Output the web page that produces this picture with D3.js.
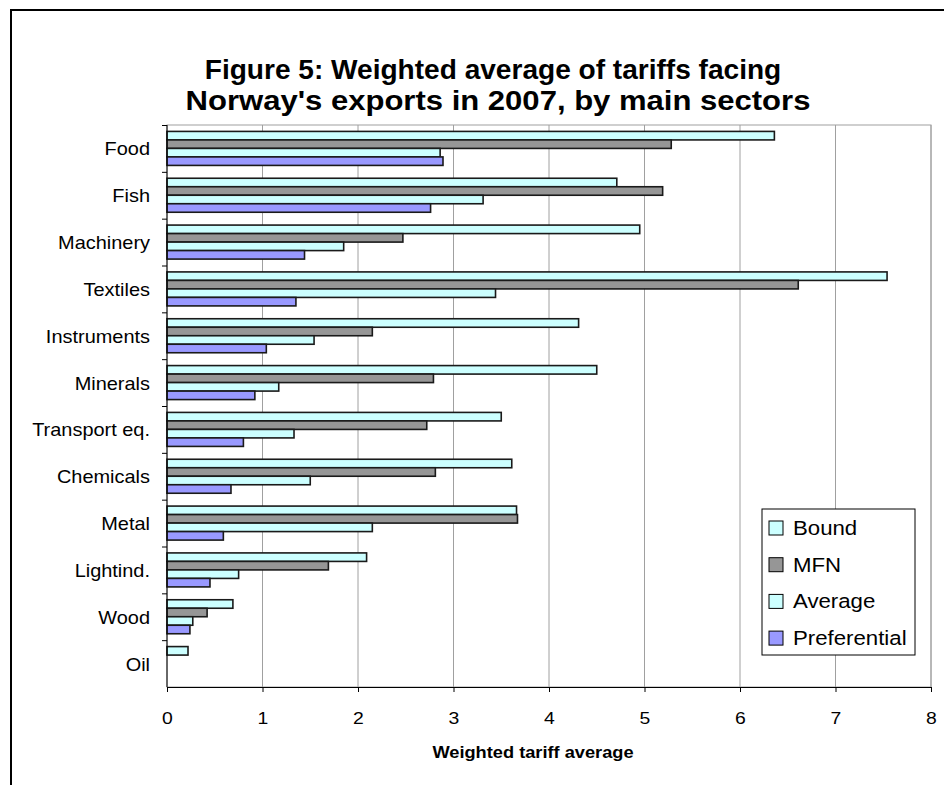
<!DOCTYPE html>
<html>
<head>
<meta charset="utf-8">
<script src="https://cdn.jsdelivr.net/npm/d3@7"></script>
<style>
  body { margin: 0; background: #fff; }
  text { font-family: "Liberation Sans", Arial, sans-serif; fill: #000; }
</style>
</head>
<body>
<script>
// sectors, top to bottom
const sectors = ["Food", "Fish", "Machinery", "Textiles", "Instruments", "Minerals",
  "Transport eq.", "Chemicals", "Metal", "Lightind.", "Wood", "Oil"];

const seriesNames = ["Bound", "MFN", "Average", "Preferential"];
const seriesColors = ["#ccffff", "#969696", "#ccffff", "#9999ff"];

// values
const bound       = [6.36, 4.71, 4.95, 7.54, 4.31, 4.50, 3.50, 3.61, 3.66, 2.09, 0.69, 0.22];
const mfn         = [5.28, 5.19, 2.47, 6.61, 2.15, 2.79, 2.72, 2.81, 3.67, 1.69, 0.42, 0];
const average     = [2.86, 3.31, 1.85, 3.44, 1.54, 1.17, 1.33, 1.50, 2.15, 0.75, 0.27, 0];
const preferential= [2.89, 2.76, 1.44, 1.35, 1.04, 0.92, 0.80, 0.67, 0.59, 0.45, 0.24, 0];

const xTicks = [0, 1, 2, 3, 4, 5, 6, 7, 8];

const allSeries = [bound, mfn, average, preferential];
const data = sectors.map((s, i) => ({
  sector: s,
  values: allSeries.map((arr, j) => ({ key: seriesNames[j], idx: j, value: arr[i] }))
}));

const W = 944, H = 785;
const plot = { left: 167, right: 931, top: 125, bottom: 687 };
const SX = 1.14; // horizontal stretch of the original text

const svg = d3.select("body").append("svg")
    .attr("width", W)
    .attr("height", H);

// outer frame
svg.append("rect")
    .attr("x", 11).attr("y", 10)
    .attr("width", W + 20).attr("height", H + 20)
    .attr("fill", "#fff")
    .attr("stroke", "#000")
    .attr("stroke-width", 2);

// stretched text helper
function stext(g, x, y, str, sx = SX) {
  return g.append("text")
      .attr("transform", `translate(${x},${y}) scale(${sx},1)`)
      .text(str);
}

// title
const title = svg.append("g").attr("font-weight", "bold").attr("font-size", 27);
stext(title, 493, 79, "Figure 5: Weighted average of tariffs facing", 1.04).attr("text-anchor", "middle");
stext(title, 498, 110, "Norway's exports in 2007, by main sectors", 1.15).attr("text-anchor", "middle");

// scales
const x = d3.scaleLinear().domain([0, 8]).range([plot.left, plot.right]);
const y = d3.scaleBand().domain(sectors).range([plot.top, plot.bottom]).paddingInner(0.274).paddingOuter(0.137);
const ySub = d3.scaleBand().domain(d3.range(4)).range([0, y.bandwidth()]);
const step = y.step();

// plot area
svg.append("rect")
    .attr("x", plot.left).attr("y", plot.top)
    .attr("width", plot.right - plot.left).attr("height", plot.bottom - plot.top)
    .attr("fill", "#fff")
    .attr("stroke", "#a0a0a0");

// grid lines
svg.append("g")
  .selectAll("line")
  .data(xTicks.slice(1))
  .join("line")
    .attr("x1", d => x(d)).attr("x2", d => x(d))
    .attr("y1", plot.top).attr("y2", plot.bottom)
    .attr("stroke", "#a0a0a0");

// bars
const groups = svg.append("g")
  .selectAll("g")
  .data(data)
  .join("g")
    .attr("transform", d => `translate(0,${y(d.sector)})`);

groups.selectAll("rect")
  .data(d => d.values.filter(v => v.value > 0))
  .join("rect")
    .attr("x", x(0))
    .attr("y", d => ySub(d.idx))
    .attr("width", d => x(d.value) - x(0))
    .attr("height", ySub.bandwidth())
    .attr("fill", d => seriesColors[d.idx])
    .attr("stroke", "#1a1a1a")
    .attr("stroke-width", 1.6);

// x axis
const xAxis = svg.append("g")
    .attr("transform", `translate(0,${plot.bottom})`)
    .call(d3.axisBottom(x).tickValues(xTicks).tickSize(5).tickSizeOuter(0).tickFormat(d3.format("d")));
xAxis.select(".domain").attr("stroke", "#000");
xAxis.selectAll(".tick line").attr("stroke", "#000");
xAxis.selectAll(".tick text")
    .attr("font-size", 17)
    .attr("font-family", "Liberation Sans, Arial, sans-serif")
    .attr("y", 0).attr("dy", 0)
    .attr("transform", `translate(0,37) scale(${SX},1)`);

// y axis: ticks at band boundaries
const yAxis = svg.append("g");
yAxis.append("line")
    .attr("x1", plot.left).attr("x2", plot.left)
    .attr("y1", plot.top).attr("y2", plot.bottom)
    .attr("stroke", "#000");
yAxis.selectAll(".btick")
  .data(sectors)
  .join("line")
    .attr("class", "btick")
    .attr("x1", plot.left - 5).attr("x2", plot.left)
    .attr("y1", d => y(d) - y.paddingOuter() * step + 0.5)
    .attr("y2", d => y(d) - y.paddingOuter() * step + 0.5)
    .attr("stroke", "#000");
yAxis.selectAll(".lab")
  .data(sectors)
  .join("text")
    .attr("class", "lab")
    .attr("font-size", 17.5)
    .attr("text-anchor", "end")
    .attr("transform", d => `translate(150,${y(d) + y.bandwidth() / 2 + 7}) scale(${SX},1)`)
    .text(d => d);

// x axis title
stext(svg, 533, 758, "Weighted tariff average")
    .attr("font-size", 16)
    .attr("font-weight", "bold")
    .attr("text-anchor", "middle");

// legend
const legend = svg.append("g");
legend.append("rect")
    .attr("x", 762).attr("y", 509)
    .attr("width", 153).attr("height", 146)
    .attr("fill", "#fff")
    .attr("stroke", "#000");
const items = legend.selectAll(".item")
  .data(seriesNames)
  .join("g")
    .attr("class", "item")
    .attr("transform", (d, i) => `translate(769,${528 + i * 36.7})`);
items.append("rect")
    .attr("x", 0).attr("y", -7)
    .attr("width", 14).attr("height", 14)
    .attr("fill", (d, i) => seriesColors[i])
    .attr("stroke", "#000");
items.append("text")
    .attr("font-size", 19.5)
    .attr("transform", `translate(24,7) scale(${SX},1)`)
    .text(d => d);
</script>
</body>
</html>
